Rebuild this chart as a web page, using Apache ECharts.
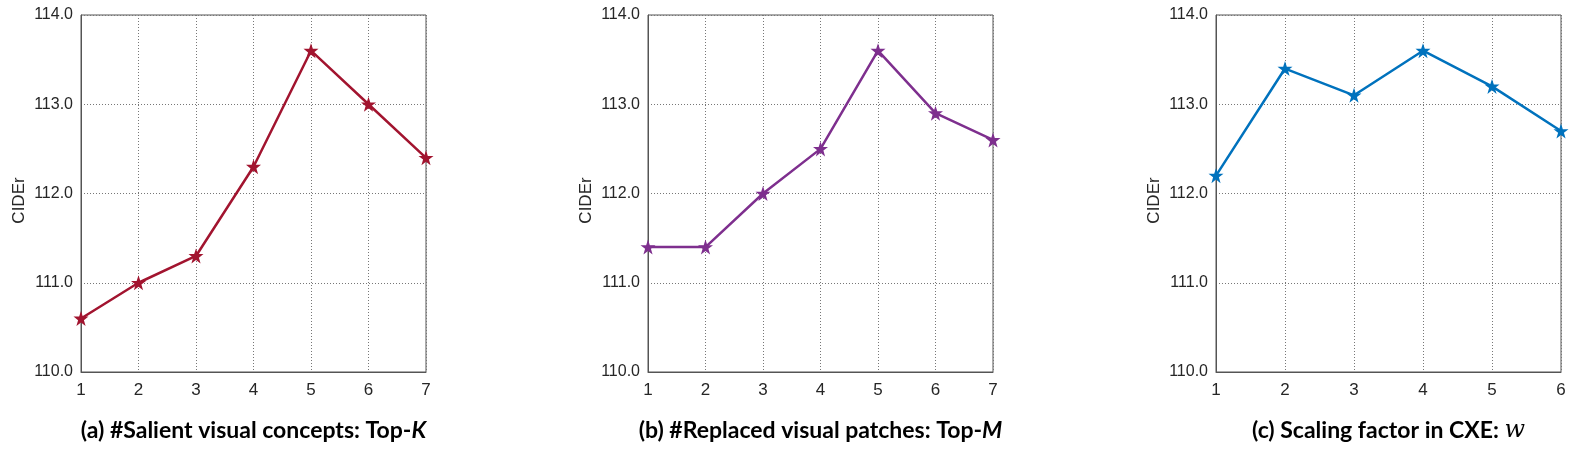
<!DOCTYPE html>
<html>
<head>
<meta charset="utf-8">
<script src="https://cdn.jsdelivr.net/npm/echarts@6/dist/echarts.min.js"></script>
<style>
  html, body { margin: 0; padding: 0; background: #fff; }
  #chart { width: 1578px; height: 451px; }
</style>
</head>
<body>
<div id="chart"></div>
<script>
const topK = ['1', '2', '3', '4', '5', '6', '7']
const topM = ['1', '2', '3', '4', '5', '6', '7']
const scaleW = ['1', '2', '3', '4', '5', '6']
const ciderTopK = [110.6, 111.0, 111.3, 112.3, 113.6, 113.0, 112.4]
const ciderTopM = [111.4, 111.4, 112.0, 112.5, 113.6, 112.9, 112.6]
const ciderScaleW = [112.2, 113.4, 113.1, 113.6, 113.2, 112.7]

const star = 'path://M50,0 L62,35 L99,35 L69,57 L80,93 L50,71 L20,93 L31,57 L1,35 L38,35 Z'
const tickFont = 'Liberation Sans, Arial, sans-serif'
const titleFont = 'Lato, Open Sans, sans-serif'

const panels = [
  { left: 81, cats: topK, data: ciderTopK, color: '#A2142F',
    title: '{b|(a) #Salient visual concepts: Top-}{i|K}' },
  { left: 648, cats: topM, data: ciderTopM, color: '#7E2F8E',
    title: '{b|(b) #Replaced visual patches: Top-}{i|M}' },
  { left: 1216, cats: scaleW, data: ciderScaleW, color: '#0072BD',
    title: '{b|(c) Scaling factor in CXE: }{m|w}' }
]

const titleRich = {
  b: { fontFamily: titleFont, fontWeight: 'bold', fontSize: 23, color: '#000' },
  i: { fontFamily: titleFont, fontWeight: 'bold', fontStyle: 'italic', fontSize: 23, color: '#000' },
  m: { fontFamily: 'DejaVu Serif, Liberation Serif, serif', fontStyle: 'italic', fontSize: 24, color: '#000' }
}

const chart = echarts.init(document.getElementById('chart'))

chart.setOption({
  backgroundColor: '#fff',
  animation: false,
  grid: panels.map(p => ({
    left: p.left,
    top: 15,
    width: 345,
    height: 357,
    show: true,
    borderColor: '#555',
    borderWidth: 1
  })),
  xAxis: panels.map((p, i) => ({
    gridIndex: i,
    type: 'category',
    boundaryGap: false,
    data: p.cats,
    name: p.title,
    nameLocation: 'middle',
    nameGap: 47,
    nameTextStyle: { rich: titleRich },
    axisLine: { lineStyle: { color: '#555', width: 1 } },
    axisTick: { show: false },
    axisLabel: { color: '#262626', fontSize: 17, fontFamily: tickFont, margin: 10 },
    splitLine: { show: true, lineStyle: { color: '#777', type: [1, 2], width: 1 } }
  })),
  yAxis: panels.map((p, i) => ({
    gridIndex: i,
    type: 'value',
    min: 110,
    max: 114,
    interval: 1,
    name: 'CIDEr',
    nameLocation: 'middle',
    nameGap: 53,
    nameTextStyle: { color: '#262626', fontSize: 17, fontFamily: tickFont, padding: [0, 14, 0, 0] },
    axisLine: { show: true, lineStyle: { color: '#555', width: 1 } },
    axisTick: { show: false },
    axisLabel: {
      color: '#262626',
      fontSize: 16,
      fontFamily: tickFont,
      margin: 8,
      formatter: v => v.toFixed(1)
    },
    splitLine: { show: true, lineStyle: { color: '#777', type: [1, 2], width: 1 } }
  })),
  series: panels.map((p, i) => ({
    type: 'line',
    xAxisIndex: i,
    yAxisIndex: i,
    data: p.data,
    symbol: star,
    symbolSize: 15,
    showAllSymbol: true,
    lineStyle: { color: p.color, width: 2.5 },
    itemStyle: { color: p.color },
    z: 5
  }))
})
</script>
</body>
</html>
